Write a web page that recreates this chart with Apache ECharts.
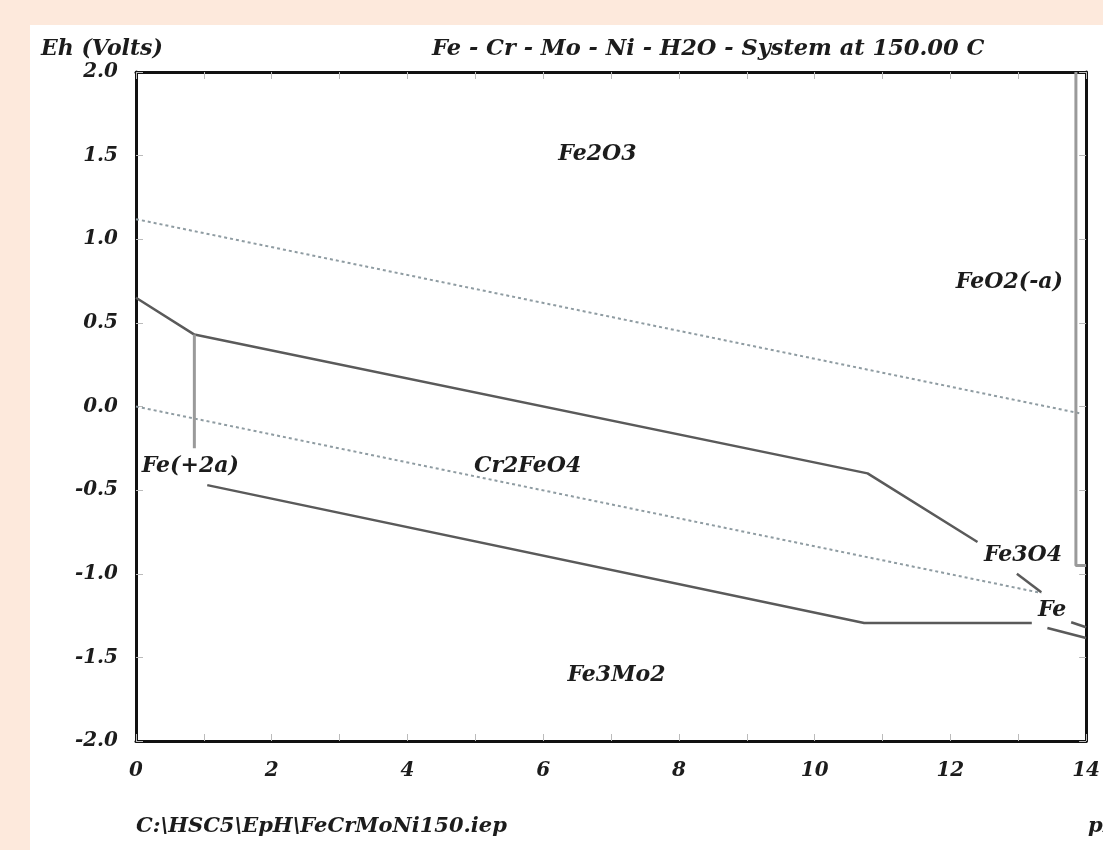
<!DOCTYPE html>
<html>
<head>
<meta charset="utf-8">
<script src="https://cdn.jsdelivr.net/npm/echarts@6/dist/echarts.min.js"></script>
<style>
html,body{margin:0;padding:0;background:#fde9dc;}
#panel{position:absolute;left:30px;top:25px;width:1073px;height:825px;background:#ffffff;}
#chart{position:absolute;left:0;top:0;width:1103px;height:850px;}
</style>
</head>
<body>
<div id="panel"></div>
<div id="chart"></div>
<script>
// ---- data (pH, Eh in volts) ----
const xTicks = [0, 2, 4, 6, 8, 10, 12, 14];
const yTicks = [-2.0, -1.5, -1.0, -0.5, 0.0, 0.5, 1.0, 1.5, 2.0];

const upperBoundary = [[0, 0.65], [0.86, 0.43], [10.78, -0.40], [12.40, -0.81]];
const upperBoundaryTail1 = [[12.98, -1.00], [13.34, -1.11]];
const upperBoundaryTail2 = [[13.78, -1.29], [14.0, -1.32]];
const lowerBoundary = [[1.05, -0.47], [10.73, -1.294], [13.2, -1.294]];
const lowerBoundaryTail = [[13.43, -1.324], [14.0, -1.384]];
const feIonBoundary = [[0.86, 0.43], [0.86, -0.25]];
const feo2Boundary = [[13.85, 2.0], [13.85, -0.95], [14.0, -0.95]];
const waterUpper = [[0, 1.12], [13.9, -0.04]];
const waterLower = [[0, 0.0], [13.34, -1.115]];

const regionNames = ['Fe2O3', 'FeO2(-a)', 'Cr2FeO4', 'Fe(+2a)', 'Fe3O4', 'Fe', 'Fe3Mo2'];
const regionPos = [[6.8, 1.51], [12.87, 0.74], [5.77, -0.36], [0.8, -0.36], [13.07, -0.89], [13.5, -1.22], [7.08, -1.61]];

const titleText = 'Fe - Cr - Mo - Ni - H2O - System at 150.00 C';
const yName = 'Eh (Volts)';
const fileName = 'C:\\HSC5\\EpH\\FeCrMoNi150.iep';
const xName = 'pH';

// ---- styling ----
const FONT = 'DejaVu Serif';
const txt = {fontFamily: FONT, fontWeight: 'bold', fontStyle: 'italic', color: '#1c1c1c', fontSize: 20};
const solid = {color: '#5a5a5a', width: 2.5};

const chart = echarts.init(document.getElementById('chart'), null, {renderer: 'canvas'});

function lineSeries(data, style) {
  return {
    type: 'line', data: data, symbol: 'none', silent: true, animation: false,
    lineStyle: style, z: 3
  };
}

function axisBase(extra) {
  return Object.assign({
    type: 'value',
    axisLine: {show: true, onZero: false, lineStyle: {color: '#111', width: 3}},
    axisTick: {show: true, inside: true, length: 7, lineStyle: {color: '#bbb', width: 1}},
    splitLine: {show: false}
  }, extra);
}

const option = {
  backgroundColor: 'transparent',
  animation: false,
  title: [
    {text: yName, left: 36, top: 33, textStyle: Object.assign({}, txt, {fontSize: 22})},
    {text: titleText, left: 427, top: 33, textStyle: Object.assign({}, txt, {fontSize: 22.5})},
    {text: fileName, left: 131, top: 811, textStyle: Object.assign({}, txt, {fontSize: 21})},
    {text: xName, left: 1083, top: 811, textStyle: Object.assign({}, txt, {fontSize: 21})}
  ],
  grid: {left: 136, top: 72, width: 951, height: 669, show: false},
  xAxis: [
    axisBase({min: 0, max: 14, interval: 1, position: 'bottom',
      axisLabel: Object.assign({}, txt, {margin: 20, formatter: v => xTicks.indexOf(v) >= 0 ? String(v) : ''})}),
    axisBase({min: 0, max: 14, interval: 1, position: 'top', axisLabel: {show: false}})
  ],
  yAxis: [
    axisBase({min: -2, max: 2, interval: 0.5, position: 'left',
      axisLabel: Object.assign({}, txt, {margin: 18, formatter: v => yTicks.indexOf(v) >= 0 ? v.toFixed(1) : ''})}),
    axisBase({min: -2, max: 2, interval: 0.5, position: 'right', axisLabel: {show: false}})
  ],
  series: [
    lineSeries(waterUpper, {color: '#8f9ca2', width: 2, type: [3, 3]}),
    lineSeries(waterLower, {color: '#8f9ca2', width: 2, type: [3, 3]}),
    lineSeries(upperBoundary, solid),
    lineSeries(upperBoundaryTail1, solid),
    lineSeries(upperBoundaryTail2, solid),
    lineSeries(lowerBoundary, solid),
    lineSeries(lowerBoundaryTail, solid),
    lineSeries(feIonBoundary, {color: '#9a9a9a', width: 3}),
    lineSeries(feo2Boundary, {color: '#9a9a9a', width: 3}),
    {
      type: 'scatter', symbolSize: 1, silent: true, z: 5,
      itemStyle: {color: 'rgba(0,0,0,0)', opacity: 1},
      data: regionNames.map((n, i) => ({name: n, value: regionPos[i]})),
      label: Object.assign({show: true, position: 'inside', formatter: p => p.name}, txt, {fontSize: 22})
    }
  ]
};
chart.setOption(option);
</script>
</body>
</html>
